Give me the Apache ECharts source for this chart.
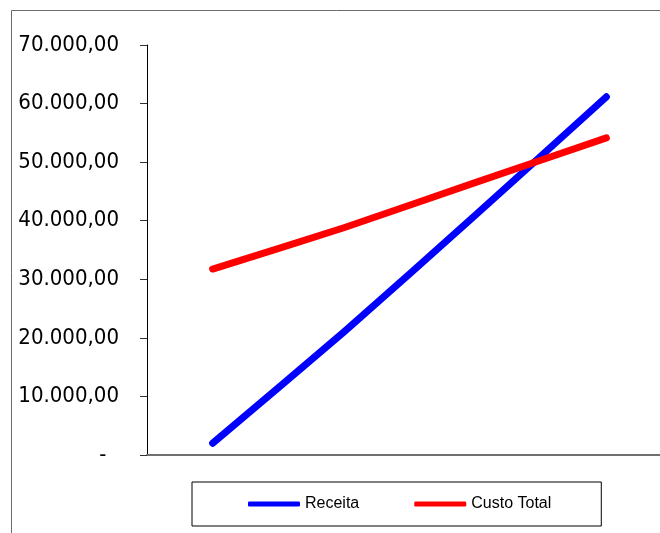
<!DOCTYPE html>
<html>
<head>
<meta charset="utf-8">
<script src="https://cdn.jsdelivr.net/npm/echarts@6/dist/echarts.min.js"></script>
<style>
  html, body { margin: 0; padding: 0; background: #fff; }
  #chart { width: 660px; height: 533px; }
</style>
</head>
<body>
<div id="chart"></div>
<script>
// Break-even chart: revenue vs. total cost over four production levels
const categories = ['1', '2', '3', '4'];
const receita = [2000, 21000, 40900, 61150];
const custoTotal = [31750, 38800, 46500, 54150];
const yTicks = { min: 0, max: 70000, step: 10000 };

// Brazilian accounting format: 70.000,00 and a dash for zero
function fmt(v) {
  if (v === 0) return '-  ';
  const s = Math.round(v).toString().replace(/\B(?=(\d{3})+(?!\d))/g, '.');
  return s + ',00';
}

const chart = echarts.init(document.getElementById('chart'), null, { renderer: 'canvas' });
chart.setOption({
  animation: false,
  backgroundColor: '#ffffff',
  graphic: [{
    type: 'rect',
    z: -10,
    shape: { x: 11.5, y: 10.5, width: 700, height: 600 },
    style: { fill: 'none', stroke: '#6b6b6b', lineWidth: 1 }
  }],
  grid: { left: 147, width: 525, top: 45, height: 410, outerBoundsMode: 'none', containLabel: false },
  xAxis: {
    type: 'category',
    data: categories,
    boundaryGap: true,
    axisLine: { show: true, lineStyle: { color: '#707070', width: 2 } },
    axisTick: { show: false },
    axisLabel: { show: false },
    splitLine: { show: false }
  },
  yAxis: {
    type: 'value',
    min: yTicks.min,
    max: yTicks.max,
    interval: yTicks.step,
    axisLine: { show: true, lineStyle: { color: '#000', width: 1 } },
    axisTick: { show: true, inside: false, length: 7, lineStyle: { color: '#333' } },
    splitLine: { show: false },
    axisLabel: {
      margin: 28,
      formatter: fmt,
      color: '#000',
      fontSize: 22,
      fontFamily: '"DejaVu Sans Condensed", "DejaVu Sans", sans-serif'
    }
  },
  legend: {
    left: 192,
    top: 482,
    padding: [14, 50, 14, 56],
    borderColor: '#000',
    borderWidth: 1,
    itemWidth: 52,
    itemHeight: 5,
    itemGap: 55,
    icon: 'roundRect',
    textStyle: { fontSize: 16, color: '#000', fontFamily: '"Liberation Sans", Arial, sans-serif' },
    data: ['Receita', 'Custo Total']
  },
  series: [
    {
      name: 'Receita',
      type: 'line',
      data: receita,
      symbol: 'none',
      smooth: 0.2,
      color: '#0000ff',
      lineStyle: { color: '#0000ff', width: 7, cap: 'round', join: 'round' }
    },
    {
      name: 'Custo Total',
      type: 'line',
      data: custoTotal,
      symbol: 'none',
      smooth: 0.2,
      color: '#ff0000',
      lineStyle: { color: '#ff0000', width: 7, cap: 'round', join: 'round' }
    }
  ]
});
</script>
</body>
</html>
